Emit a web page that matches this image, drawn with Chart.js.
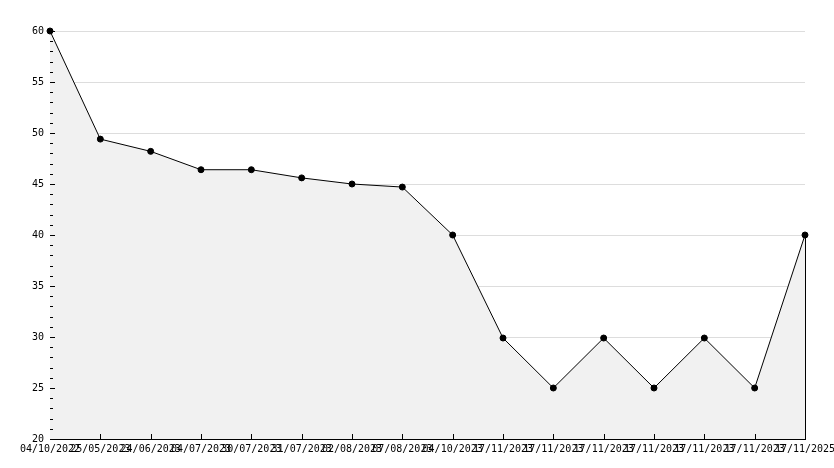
<!DOCTYPE html>
<html>
<head>
<meta charset="utf-8">
<script src="https://cdn.jsdelivr.net/npm/chart.js@4/dist/chart.umd.min.js"></script>
<style>
    html, body { margin: 0; padding: 0; background: #fff; }
    #wrap { width: 834px; height: 468px; }
</style>
</head>
<body>
<div id="wrap"><canvas id="myChart"></canvas></div>
<script>
const dates = [
    '04/10/2022', '25/05/2023', '24/06/2023', '04/07/2023', '30/07/2023',
    '31/07/2023', '02/08/2023', '07/08/2023', '04/10/2023', '17/11/2023',
    '17/11/2023', '17/11/2023', '17/11/2023', '17/11/2023', '17/11/2023',
    '17/11/2025'
];
const values = [60, 49.4, 48.2, 46.4, 46.4, 45.6, 45.0, 44.7, 40, 29.9, 25, 29.9, 25, 29.9, 25, 40];
const yMin = 20;
const yMax = 60;

// small tick marks drawn inside the plot, plus the closing edge of the area
const innerTicks = {
    id: 'innerTicks',
    afterDatasetsDraw(chart) {
        const ctx = chart.ctx;
        const x = chart.scales.x;
        const y = chart.scales.y;
        const area = chart.chartArea;
        ctx.save();
        ctx.strokeStyle = '#000';
        ctx.lineWidth = 1;
        ctx.beginPath();
        for (let v = yMin; v <= yMax; v++) {
            const py = Math.round(y.getPixelForValue(v)) + 0.5;
            const len = v % 5 === 0 ? 5 : 3;
            ctx.moveTo(area.left, py);
            ctx.lineTo(area.left + len, py);
        }
        for (let i = 1; i < values.length; i++) {
            const px = Math.round(x.getPixelForValue(i)) + 0.5;
            ctx.moveTo(px, area.bottom);
            ctx.lineTo(px, area.bottom - 5);
        }
        const last = values.length - 1;
        const lx = Math.round(x.getPixelForValue(last)) + 0.5;
        ctx.moveTo(lx, y.getPixelForValue(values[last]));
        ctx.lineTo(lx, area.bottom);
        ctx.stroke();
        ctx.restore();
    }
};

const font = { family: 'DejaVu Sans Mono', size: 10 };

new Chart(document.querySelector('#myChart'), {
    type: 'line',
    data: {
        labels: dates,
        datasets: [
            {
                data: values,
                borderColor: '#000',
                borderWidth: 1,
                backgroundColor: '#f1f1f1',
                fill: 'start',
                tension: 0,
                clip: false,
                pointRadius: 3,
                pointStyle: 'circle',
                pointBackgroundColor: '#000',
                pointBorderColor: '#000',
                pointBorderWidth: 1,
            },
        ],
    },
    plugins: [innerTicks],
    options: {
        responsive: true,
        maintainAspectRatio: false,
        animation: false,
        layout: { padding: { left: 0, right: 29, top: 31, bottom: 0 } },
        plugins: {
            legend: { display: false },
            tooltip: { enabled: false },
        },
        scales: {
            x: {
                grid: { display: false, drawTicks: false },
                border: { color: '#000', width: 1 },
                ticks: {
                    color: '#000',
                    font,
                    autoSkip: false,
                    maxRotation: 0,
                    minRotation: 0,
                    padding: 4,
                },
                afterFit: (scale) => {
                    scale.height = 29;
                    scale.paddingLeft = 0;
                    scale.paddingRight = 0;
                },
            },
            y: {
                min: yMin,
                max: yMax,
                grid: { color: '#dddddd', drawTicks: false },
                border: { color: '#000', width: 1 },
                ticks: {
                    color: '#000',
                    font,
                    stepSize: 5,
                    padding: 6,
                },
                afterFit: (scale) => { scale.width = 50; },
            },
        },
    },
});
</script>
</body>
</html>
